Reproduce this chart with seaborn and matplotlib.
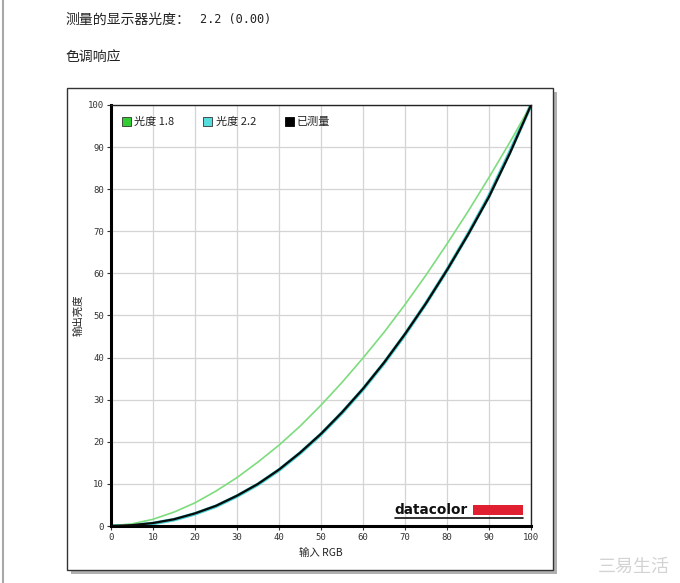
import numpy as np
import pandas as pd
import matplotlib
matplotlib.use("Agg")
import matplotlib.pyplot as plt
import matplotlib.patches as mpatches
from matplotlib.lines import Line2D
import seaborn as sns

# ---- data ----
x_rgb = [0, 5, 10, 15, 20, 25, 30, 35, 40, 45, 50, 55, 60, 65, 70, 75, 80, 85, 90, 95, 100]
gamma18 = [0, 0.5, 1.6, 3.3, 5.5, 8.3, 11.5, 15.2, 19.2, 23.7, 28.7, 34.1, 39.9, 46.0, 52.6, 59.6, 67.0, 74.7, 82.8, 91.2, 100]
gamma22 = [0, 0.1, 0.6, 1.5, 2.9, 4.7, 7.1, 9.9, 13.3, 17.3, 21.8, 26.9, 32.5, 38.7, 45.5, 52.9, 60.8, 69.3, 78.4, 88.9, 100]
measured = [0, 0.2, 0.7, 1.6, 3.0, 4.8, 7.2, 10.0, 13.4, 17.4, 21.9, 27.0, 32.6, 38.8, 45.6, 52.9, 60.8, 69.2, 78.2, 88.6, 100]
series_names = ["光度 1.8", "光度 2.2", "已测量"]
ticks = [0, 10, 20, 30, 40, 50, 60, 70, 80, 90, 100]

sns.set_theme(style="white")
plt.rcParams['font.family'] = ['Noto Sans CJK SC', 'DejaVu Sans']

df = pd.DataFrame({
    "x": x_rgb * 3,
    "y": gamma18 + gamma22 + measured,
    "s": [series_names[0]] * len(x_rgb) + [series_names[1]] * len(x_rgb) + [series_names[2]] * len(x_rgb),
})

W, H = 680, 583
fig = plt.figure(figsize=(6.8, 5.83), dpi=100)
fig.patch.set_facecolor("white")

# page left border
fig.add_artist(Line2D([3 / W, 3 / W], [0, 1], color="#a8a8a8", lw=1.5, transform=fig.transFigure, zorder=-3))

# header texts
fig.text(65 / W, 1 - 20 / H, "测量的显示器光度：", fontsize=10, va="center", ha="left", color="#222222")
fig.text(200 / W, 1 - 20 / H, "2.2 (0.00)", fontsize=8.6, va="center", ha="left", color="#222222",
         family="DejaVu Sans Mono")
fig.text(65 / W, 1 - 57 / H, "色调响应", fontsize=10, va="center", ha="left", color="#222222")

# chart frame with shadow
fx0, fy0, fx1, fy1 = 67, 88, 553, 570
fig.add_artist(mpatches.Rectangle(((fx0 + 4) / W, 1 - (fy1 + 4) / H), (fx1 - fx0) / W, (fy1 - fy0) / H,
                                  transform=fig.transFigure, facecolor="#b0b0b0", edgecolor="none", zorder=-2))
fig.add_artist(mpatches.Rectangle((fx0 / W, 1 - fy1 / H), (fx1 - fx0) / W, (fy1 - fy0) / H,
                                  transform=fig.transFigure, facecolor="white", edgecolor="#333333", lw=1.0, zorder=-1))

ax_l, ax_r, ax_t, ax_b = 111, 531, 105, 526
ax = fig.add_axes([ax_l / W, 1 - ax_b / H, (ax_r - ax_l) / W, (ax_b - ax_t) / H])
ax.set_zorder(2)
ax.set_facecolor("white")

palette = {series_names[0]: "#7ddc7d", series_names[1]: "#40d0d0", series_names[2]: "#0a0a0a"}
sizes = {series_names[0]: 1.2, series_names[1]: 2.6, series_names[2]: 1.6}
sns.lineplot(data=df, x="x", y="y", hue="s", palette=palette, size="s", sizes=sizes,
             legend=False, ax=ax, zorder=3)
for ln, z in zip(ax.lines, [3, 2, 4]):
    ln.set_zorder(z)

ax.set_xlim(0, 100)
ax.set_ylim(0, 100)
ax.set_xticks(ticks)
ax.set_yticks(ticks)
ax.set_xticklabels([str(t) for t in ticks], fontfamily="DejaVu Sans Mono", fontsize=6.5, color="#333333")
ax.set_yticklabels([str(t) for t in ticks], fontfamily="DejaVu Sans Mono", fontsize=6.5, color="#333333")
ax.grid(True, color="#d4d4d4", lw=0.9)
ax.set_axisbelow(True)
ax.tick_params(axis="both", direction="out", length=3, width=0.8, color="#333333", pad=2,
               bottom=True, left=True)
for side in ["top", "right"]:
    ax.spines[side].set_color("#222222")
    ax.spines[side].set_linewidth(1.0)
for side in ["left", "bottom"]:
    ax.spines[side].set_color("#000000")
    ax.spines[side].set_linewidth(2.2)

ax.set_xlabel("输入 RGB", fontsize=7.5, color="#222222", labelpad=4)
ax.set_ylabel("输出亮度", fontsize=7.5, color="#222222", labelpad=3)

# legend
handles = [mpatches.Patch(facecolor="#33cc33", edgecolor="#333333", lw=0.6, label=series_names[0]),
           mpatches.Patch(facecolor="#55dddd", edgecolor="#333333", lw=0.6, label=series_names[1]),
           mpatches.Patch(facecolor="#000000", edgecolor="#000000", lw=0.6, label=series_names[2])]
leg = ax.legend(handles=handles, loc="upper left", ncol=3, frameon=False, fontsize=8,
                handlelength=0.8, handleheight=0.8, handletextpad=0.3, columnspacing=2.6,
                bbox_to_anchor=(0.008, 0.99), borderaxespad=0.3)
for t in leg.get_texts():
    t.set_color("#222222")

# datacolor logo
ax.text(0.675, 0.029, "datacolor", transform=ax.transAxes, fontsize=9.8, fontweight="bold",
        color="#111111", ha="left", va="baseline", family="DejaVu Sans", zorder=5)
ax.add_patch(mpatches.Rectangle((0.862, 0.026), 0.118, 0.024, transform=ax.transAxes,
                                facecolor="#e02030", edgecolor="none", zorder=5))
ax.add_line(Line2D([0.675, 0.98], [0.019, 0.019], transform=ax.transAxes, color="#111111", lw=1.2, zorder=5))

# watermark
fig.text(0.985, 0.012, "三易生活", fontsize=13, color="#c8c8c8", ha="right", va="bottom", alpha=0.8)

fig.savefig("out.png", dpi=100, facecolor="white")
